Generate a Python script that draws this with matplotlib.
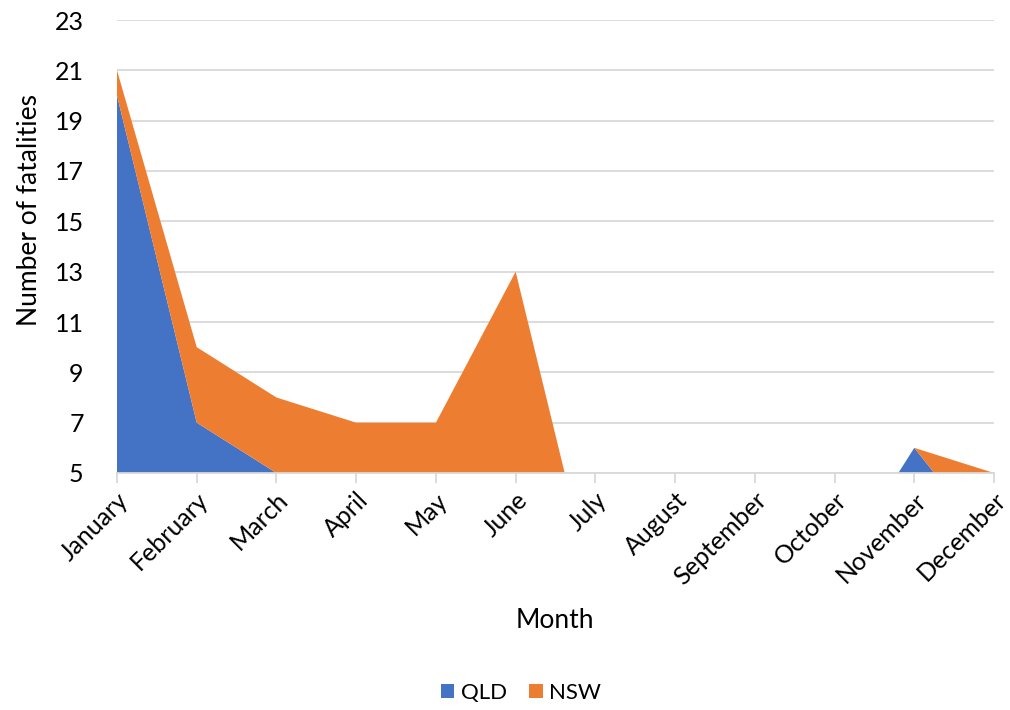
import matplotlib
matplotlib.use("Agg")
import matplotlib.pyplot as plt
import numpy as np

# ---- data (values below 5 are hidden by the axis) ----
months = ["January", "February", "March", "April", "May", "June",
          "July", "August", "September", "October", "November", "December"]
qld = [20, 7, 5, 2, 3, 1, 0, 0, 0, 1, 6, 2]
nsw = [1, 3, 3, 5, 4, 12, 0, 0, 0, 0, 0, 3]
y_ticks = [5, 7, 9, 11, 13, 15, 17, 19, 21, 23]

BLUE = "#4472C4"
ORANGE = "#ED7D31"
GRID = "#D9D9D9"

plt.rcParams["font.family"] = ["Lato", "DejaVu Sans"]

fig = plt.figure(figsize=(10.1, 7.1), dpi=100)
ax = fig.add_axes([117 / 1010, 1 - 473 / 710, (994 - 117) / 1010, (473 - 20) / 710])

x = np.arange(len(months))
ax.stackplot(x, qld, nsw, colors=[BLUE, ORANGE], labels=["QLD", "NSW"], zorder=2)

ax.set_xlim(0, len(months) - 1)
ax.set_ylim(y_ticks[0], y_ticks[-1])
ax.set_yticks(y_ticks)
ax.set_xticks(x)
ax.set_xticklabels(months, rotation=45, ha="right", va="top", rotation_mode="anchor")

ax.grid(axis="y", color=GRID, linewidth=1.3, zorder=0)
ax.set_axisbelow(True)
for s in ["top", "right", "left"]:
    ax.spines[s].set_visible(False)
ax.spines["bottom"].set_color(GRID)
ax.spines["bottom"].set_linewidth(1.3)
ax.spines["bottom"].set_zorder(3)

ax.tick_params(axis="y", length=0, labelsize=18, pad=24)
ax.tick_params(axis="x", length=7, color=GRID, width=1.3, labelsize=18, pad=4)

fig.text(555 / 1010, 1 - 620 / 710, "Month", ha="center", va="center", fontsize=19)
fig.text(30 / 1010, 1 - 210 / 710, "Number of fatalities", ha="center", va="center",
         rotation=90, fontsize=19)

fig.legend(loc="center", bbox_to_anchor=(521 / 1010, 1 - 693 / 710), ncol=2,
           frameon=False, fontsize=16, handlelength=0.6, handleheight=0.6,
           handletextpad=0.3, columnspacing=1.0)

fig.savefig("out.png", dpi=100)
